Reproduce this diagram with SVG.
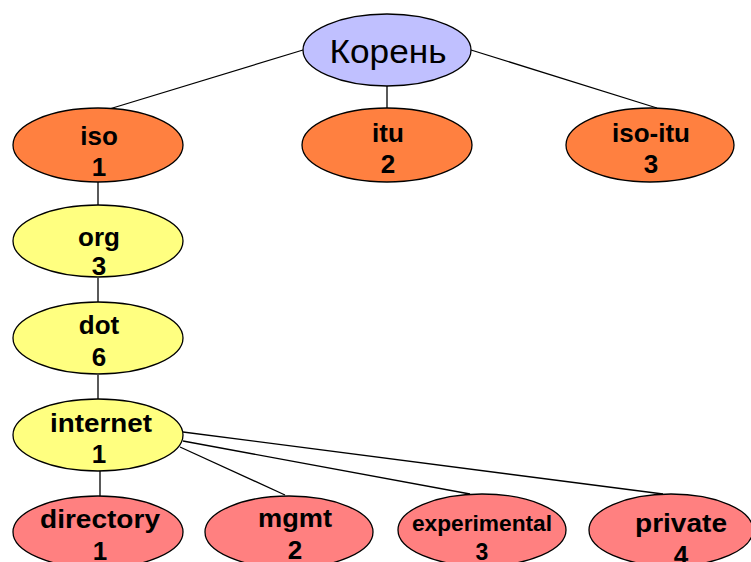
<svg xmlns="http://www.w3.org/2000/svg" width="751" height="562" viewBox="0 0 751 562">
<style>
.e{stroke:#000;stroke-width:1.3}
.root{fill:#C0C0FF}
.o{fill:#FF8040}
.y{fill:#FFFF80}
.p{fill:#FF8080}
text{font-family:"Liberation Sans",Arial,sans-serif;font-weight:bold;font-size:26px;text-anchor:middle;fill:#000}
.c line{stroke:#000;stroke-width:1.3}
</style>
<rect width="751" height="562" fill="#fff"/>
<g id="connectors" class="c">
<line x1="303" y1="50" x2="106" y2="110"/>
<line x1="387" y1="86" x2="387" y2="108"/>
<line x1="471" y1="50" x2="657" y2="108"/>
<line x1="98" y1="182" x2="98" y2="205"/>
<line x1="98" y1="278" x2="98" y2="302"/>
<line x1="98" y1="375" x2="98" y2="399"/>
<line x1="100" y1="471" x2="100" y2="496"/>
<line x1="180" y1="447" x2="285" y2="495"/>
<line x1="183" y1="441" x2="470" y2="494"/>
<line x1="183" y1="432" x2="663" y2="494"/>
</g>
<g id="root">
<ellipse class="e root" cx="387" cy="50" rx="84" ry="36"/>
<text x="388" y="63" style="font-weight:normal;font-size:34px" textLength="117" lengthAdjust="spacingAndGlyphs">Корень</text>
</g>
<g id="iso">
<ellipse class="e o" cx="98" cy="145" rx="85" ry="37"/>
<text x="99" y="145">iso</text>
<text x="99" y="176">1</text>
</g>
<g id="itu">
<ellipse class="e o" cx="387" cy="145" rx="85" ry="37"/>
<text x="388" y="142">itu</text>
<text x="388" y="173">2</text>
</g>
<g id="iso-itu">
<ellipse class="e o" cx="650" cy="145" rx="84" ry="37"/>
<text x="651" y="142">iso-itu</text>
<text x="651" y="173">3</text>
</g>
<g id="org">
<ellipse class="e y" cx="98" cy="241" rx="85" ry="36"/>
<text x="99" y="246">org</text>
<text x="99" y="275">3</text>
</g>
<g id="dot">
<ellipse class="e y" cx="98" cy="338" rx="85" ry="36"/>
<text x="99" y="334">dot</text>
<text x="99" y="366">6</text>
</g>
<g id="internet">
<ellipse class="e y" cx="98" cy="435" rx="85" ry="36"/>
<text x="101" y="432" textLength="102" lengthAdjust="spacingAndGlyphs">internet</text>
<text x="99" y="463">1</text>
</g>
<g id="directory">
<ellipse class="e p" cx="98" cy="532" rx="85" ry="36"/>
<text x="100" y="528" textLength="120" lengthAdjust="spacingAndGlyphs">directory</text>
<text x="100" y="560">1</text>
</g>
<g id="mgmt">
<ellipse class="e p" cx="289" cy="532" rx="84" ry="36"/>
<text x="295" y="527" textLength="74" lengthAdjust="spacingAndGlyphs">mgmt</text>
<text x="295" y="559">2</text>
</g>
<g id="experimental">
<ellipse class="e p" cx="482" cy="530" rx="84" ry="36"/>
<text x="482" y="531" style="font-size:22px" textLength="140" lengthAdjust="spacingAndGlyphs">experimental</text>
<text x="482" y="560" style="font-size:23px">3</text>
</g>
<g id="private">
<ellipse class="e p" cx="671" cy="530" rx="82" ry="36"/>
<text x="681" y="532" textLength="92" lengthAdjust="spacingAndGlyphs">private</text>
<text x="681" y="564">4</text>
</g>
</svg>
